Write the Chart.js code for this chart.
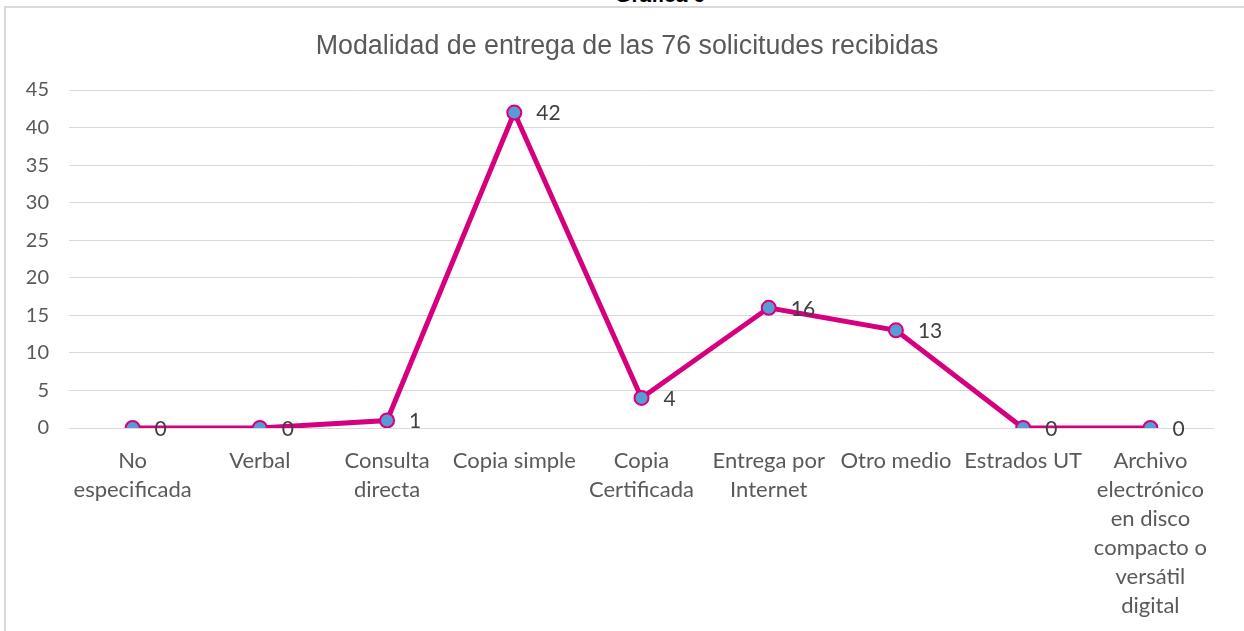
<!DOCTYPE html>
<html>
<head>
<meta charset="utf-8">
<script src="https://cdn.jsdelivr.net/npm/chart.js@4/dist/chart.umd.min.js"></script>
<style>
  html, body { margin: 0; padding: 0; background: #fff; overflow: hidden; }
  body { width: 1244px; height: 631px; position: relative; }
  #cabecera {
    position: absolute; left: 560px; width: 200px; top: -16px;
    text-align: center; font: bold 21px "Liberation Sans", Arial, sans-serif;
    line-height: 21px; color: #000;
  }
  #marco {
    position: absolute; left: 4px; top: 6px; width: 1242px; height: 630px;
    border: 2px solid #d9d9d9; background: #fff;
  }
  #grafica { display: block; }
</style>
</head>
<body>
<div id="cabecera">Gráfica 6</div>
<div id="marco"><canvas id="grafica" width="1242" height="630"></canvas></div>
<script>
// categorias (etiquetas del eje X, en varias lineas como en el original)
const categorias = [
  ['No', 'especificada'],
  ['Verbal'],
  ['Consulta', 'directa'],
  ['Copia simple'],
  ['Copia', 'Certificada'],
  ['Entrega por', 'Internet'],
  ['Otro medio'],
  ['Estrados UT'],
  ['Archivo', 'electrónico', 'en disco', 'compacto o', 'versátil', 'digital']
];
const solicitudes = [0, 0, 1, 42, 4, 16, 13, 0, 0];
const titulo = 'Modalidad de entrega de las 76 solicitudes recibidas';

const fuente = 'Lato, "Liberation Sans", sans-serif';

// titulo centrado sobre todo el marco (no solo sobre el area con padding)
const tituloCentrado = {
  id: 'tituloCentrado',
  afterDraw(chart) {
    const ctx = chart.ctx;
    ctx.save();
    ctx.font = '26.8px "Liberation Sans", Arial, sans-serif';
    ctx.fillStyle = '#595959';
    ctx.textAlign = 'center';
    ctx.textBaseline = 'middle';
    ctx.fillText(titulo, chart.width / 2, 39);
    ctx.restore();
  }
};

// etiquetas de datos a la derecha de cada punto
const etiquetasDatos = {
  id: 'etiquetasDatos',
  afterDatasetsDraw(chart) {
    const ctx = chart.ctx;
    const meta = chart.getDatasetMeta(0);
    ctx.save();
    ctx.font = '21px ' + fuente;
    ctx.fillStyle = '#404040';
    ctx.textAlign = 'left';
    ctx.textBaseline = 'middle';
    meta.data.forEach((p, i) => {
      ctx.fillText(String(solicitudes[i]), p.x + 22, p.y + 1);
    });
    ctx.restore();
  }
};

new Chart(document.getElementById('grafica').getContext('2d'), {
  type: 'line',
  data: {
    labels: categorias,
    datasets: [{
      data: solicitudes,
      borderColor: '#D6007E',
      borderWidth: 5,
      pointBackgroundColor: '#5B9BD5',
      pointBorderColor: '#D6007E',
      pointBorderWidth: 2,
      pointRadius: 7,
      tension: 0,
      fill: false
    }]
  },
  options: {
    responsive: false,
    animation: false,
    layout: { padding: { left: 0, right: 34, top: 82, bottom: 0 } },
    plugins: {
      legend: { display: false },
      tooltip: { enabled: false },
      title: { display: false }
    },
    scales: {
      x: {
        offset: true,
        grid: { display: false },
        border: { display: false },
        ticks: {
          color: '#595959',
          font: { family: fuente, size: 22, lineHeight: 1.32 },
          padding: 10,
          maxRotation: 0,
          autoSkip: false
        },
        afterFit(scale) { scale.height = 210; }
      },
      y: {
        min: 0,
        max: 45,
        ticks: {
          stepSize: 5,
          color: '#595959',
          font: { family: fuente, size: 20 },
          padding: 20
        },
        grid: { color: '#d9d9d9', lineWidth: 1, drawTicks: false },
        border: { display: false },
        afterFit(scale) { scale.width = 63; }
      }
    }
  },
  plugins: [tituloCentrado, etiquetasDatos]
});
</script>
</body>
</html>
